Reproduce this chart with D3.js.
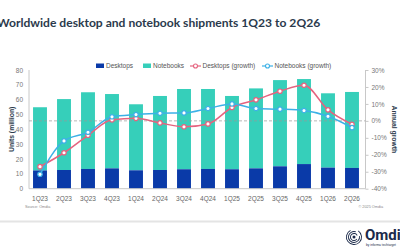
<!DOCTYPE html>
<html>
<head>
<meta charset="utf-8">
<script src="https://cdn.jsdelivr.net/npm/d3@7"></script>
<style>
  html, body { margin: 0; padding: 0; background: #fff; }
  svg { display: block; font-family: "Liberation Sans", Arial, sans-serif; }
</style>
</head>
<body>
<svg width="400" height="250"></svg>
<script>
const width = 400, height = 250;
const marginTop = 70, marginBottom = 61.3, marginLeft = 28, marginRight = 36;

const quarters = ["1Q23","2Q23","3Q23","4Q23","1Q24","2Q24","3Q24","4Q24","1Q25","2Q25","3Q25","4Q25","1Q26","2Q26"];
const desktops = [12.3, 12.6, 13.3, 13.7, 12.4, 12.6, 13.1, 13.3, 13.1, 13.7, 15.1, 16.6, 14.2, 14.0];
const totals = [54.9, 60.4, 65.0, 63.8, 56.9, 62.5, 67.2, 67.2, 62.5, 67.6, 73.2, 73.9, 64.3, 65.2];
const notebooks = totals.map((t, i) => +(t - desktops[i]).toFixed(1));
const desktopGrowth = [-27, -18.8, -8.5, 0.6, 1.5, -1.2, -3.5, -1.8, 7.9, 12.4, 17.5, 21, 6.5, -2];
const notebookGrowth = [-31.5, -11.8, -6.7, 2.4, 3.7, 4.5, 4.7, 7.3, 10, 7.3, 6.9, 6.1, 2.7, -4];
const leftTicks = [0, 10, 20, 30, 40, 50, 60, 70, 80];
const rightTicks = [-40, -30, -20, -10, 0, 10, 20, 30];

const colDesk = "#0a3aa8", colNote = "#36cfba", colDeskG = "#e5637f", colNoteG = "#3cb1e6";
const svg = d3.select("svg");

// title (cut at the left edge, as in the original slide)
svg.append("text")
    .attr("x", -3).attr("y", 27)
    .style("font-family", "Lato, sans-serif")
    .style("font-weight", "bold")
    .style("font-size", "12.1px")
    .style("fill", "#2b3a4c")
    .text("Worldwide desktop and notebook shipments 1Q23 to 2Q26");

const x = d3.scaleBand()
    .domain(quarters)
    .range([marginLeft, width - marginRight])
    .paddingInner(0.42).paddingOuter(0.21);

const y = d3.scaleLinear().domain([0, 80]).range([height - marginBottom, marginTop]);
const y2 = d3.scaleLinear().domain([-40, 30]).range([height - marginBottom, marginTop]);

// axis lines
const axisCol = "#c8c8c8";
svg.append("line").attr("x1", 29).attr("x2", 29).attr("y1", y(80)).attr("y2", y(0)).attr("stroke", axisCol);
svg.append("line").attr("x1", width - 34.5).attr("x2", width - 34.5).attr("y1", y(80)).attr("y2", y(0)).attr("stroke", axisCol);

// left ticks
const leftAxis = svg.append("g").attr("transform", `translate(29,0)`)
    .call(d3.axisLeft(y).tickValues(leftTicks).tickSize(0).tickPadding(6));
leftAxis.select(".domain").remove();
leftAxis.selectAll("text").style("font-size", "6.5px").style("fill", "#777");

// right ticks
const rightAxis = svg.append("g").attr("transform", `translate(${width - 34.5},0)`)
    .call(d3.axisRight(y2).tickValues(rightTicks).tickSize(3).tickPadding(3).tickFormat(d => d + "%"));
rightAxis.select(".domain").remove();
rightAxis.selectAll("line").attr("stroke", axisCol);
rightAxis.selectAll("text").style("font-size", "6.5px").style("fill", "#777");

// bars
svg.append("g").selectAll("rect").data(quarters).join("rect")
    .attr("x", d => x(d)).attr("width", x.bandwidth())
    .attr("y", (d, i) => y(totals[i]))
    .attr("height", (d, i) => y(desktops[i]) - y(totals[i]))
    .attr("fill", colNote);
svg.append("g").selectAll("rect").data(quarters).join("rect")
    .attr("x", d => x(d)).attr("width", x.bandwidth())
    .attr("y", (d, i) => y(desktops[i]))
    .attr("height", (d, i) => y(0) - y(desktops[i]))
    .attr("fill", colDesk);

// bottom axis
svg.append("line").attr("x1", 29).attr("x2", width - 34.5).attr("y1", y(0)).attr("y2", y(0)).attr("stroke", axisCol);
const bottomAxis = svg.append("g").attr("transform", `translate(0,${y(0)})`)
    .call(d3.axisBottom(x).tickSize(0).tickPadding(8));
bottomAxis.select(".domain").remove();
bottomAxis.selectAll("text").style("font-size", "6.5px").style("fill", "#666");

// zero growth reference
svg.append("line")
    .attr("x1", 29).attr("x2", width - 34.5)
    .attr("y1", y2(0)).attr("y2", y2(0))
    .attr("stroke", "#999").attr("stroke-dasharray", "3,2").attr("stroke-width", 0.7);

// growth lines
const cx = d => x(d) + x.bandwidth() / 2;
const line = d3.line().x(d => cx(d.q)).y(d => y2(d.v)).curve(d3.curveMonotoneX);
[[desktopGrowth, colDeskG], [notebookGrowth, colNoteG]].forEach(([vals, col]) => {
    const pts = quarters.map((q, i) => ({ q, v: vals[i] }));
    svg.append("path").datum(pts).attr("d", line)
        .attr("fill", "none").attr("stroke", col).attr("stroke-width", 1.5);
    svg.append("g").selectAll("circle").data(pts).join("circle")
        .attr("cx", d => cx(d.q)).attr("cy", d => y2(d.v)).attr("r", 2.2)
        .attr("fill", "#fff").attr("stroke", col).attr("stroke-width", 1.2);
});

// legend
const lg = svg.append("g").style("font-size", "6.5px").style("fill", "#555");
lg.append("rect").attr("x", 96).attr("y", 63.5).attr("width", 8).attr("height", 4.5).attr("fill", colDesk);
lg.append("text").attr("x", 106).attr("y", 68.3).text("Desktops");
lg.append("rect").attr("x", 143).attr("y", 63.5).attr("width", 8).attr("height", 4.5).attr("fill", colNote);
lg.append("text").attr("x", 153).attr("y", 68.3).text("Notebooks");
[[190, colDeskG, "Desktops (growth)"], [262, colNoteG, "Notebooks (growth)"]].forEach(([lx, col, label]) => {
    lg.append("line").attr("x1", lx).attr("x2", lx + 11).attr("y1", 66).attr("y2", 66).attr("stroke", col).attr("stroke-width", 1.2);
    lg.append("circle").attr("cx", lx + 5.5).attr("cy", 66).attr("r", 2).attr("fill", "#fff").attr("stroke", col).attr("stroke-width", 1.1);
    lg.append("text").attr("x", lx + 12.5).attr("y", 68.3).text(label);
});

// axis titles
svg.append("text")
    .attr("transform", `translate(14,${(y(0) + y(80)) / 2}) rotate(-90)`)
    .attr("text-anchor", "middle")
    .style("font-size", "6.8px").style("font-weight", "bold").style("fill", "#2b3a4c")
    .text("Units (million)");
svg.append("text")
    .attr("transform", `translate(392,${(y(0) + y(80)) / 2}) rotate(90)`)
    .attr("text-anchor", "middle")
    .style("font-size", "6.8px").style("font-weight", "bold").style("fill", "#2b3a4c")
    .text("Annual growth");

// footnotes
svg.append("text").attr("x", 25).attr("y", 208).style("font-size", "3.8px").style("fill", "#888").text("Source: Omdia");
svg.append("text").attr("x", 383).attr("y", 208).attr("text-anchor", "end").style("font-size", "3.8px").style("fill", "#888").text("© 2025 Omdia");

// separator
svg.append("rect").attr("x", 0).attr("y", 220.5).attr("width", width).attr("height", 2).attr("fill", "#e4e4e4");

// logo
const logo = svg.append("g").attr("transform", "translate(354,237)");
[8, 6, 4].forEach((r, i) => {
    logo.append("path")
        .attr("d", d3.arc()({ innerRadius: r - 0.9, outerRadius: r, startAngle: 0.6 + i * 0.8, endAngle: 0.6 + i * 0.8 + 5.2 }))
        .attr("fill", "#1b2a4a");
});
logo.append("circle").attr("r", 1.5).attr("fill", "#1b2a4a");
svg.append("text").attr("x", 365).attr("y", 240)
    .style("font-family", "Roboto, sans-serif").style("font-weight", "bold").style("font-size", "15px").style("fill", "#1b2a4a")
    .text("Omdia");
svg.append("text").attr("x", 366).attr("y", 245.5)
    .style("font-size", "3.2px").style("fill", "#1b2a4a")
    .text("by informa techtarget");
</script>
</body>
</html>
